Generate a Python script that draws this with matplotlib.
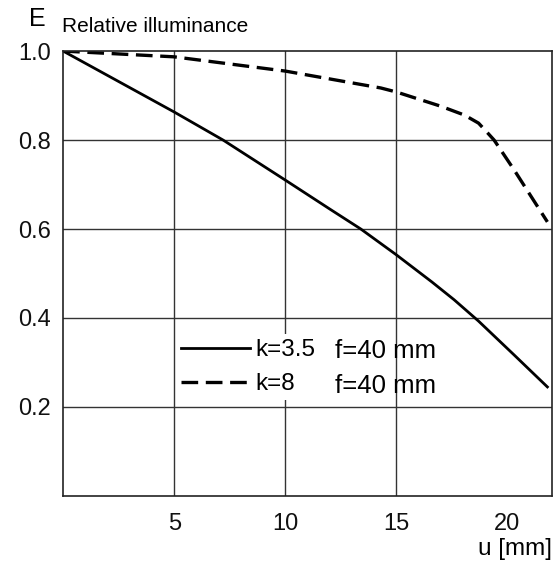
import matplotlib.pyplot as plt

plt.rcParams['font.family'] = ['Liberation Sans', 'DejaVu Sans']
plt.rcParams['lines.scale_dashes'] = False

# curve for k=3.5
u_solid = [0, 5, 7.2, 10, 12, 13.4, 15, 16.6, 17.6, 18.7, 20.3, 21.8]
E_solid = [1.0, 0.863, 0.8, 0.71, 0.645, 0.6, 0.542, 0.481, 0.441, 0.393, 0.317, 0.245]
# curve for k=8
u_dash = [0, 5, 10, 14.3, 15, 17, 18.07, 18.7, 19.0, 19.4, 20.3, 21.8]
E_dash = [1.0, 0.987, 0.955, 0.917, 0.908, 0.876, 0.856, 0.838, 0.822, 0.8, 0.733, 0.616]

xticks = [5, 10, 15, 20]
yticks = [0.2, 0.4, 0.6, 0.8, 1.0]
ylabels = ['0.2', '0.4', '0.6', '0.8', '1.0']

fig = plt.figure(figsize=(5.56, 5.61), dpi=100)
ax = fig.add_axes([0.1135, 0.116, 0.879, 0.793])

ax.plot(u_solid, E_solid, color='black', lw=2, label='k=3.5')
ax.plot(u_dash, E_dash, color='black', lw=2.4, dashes=(12, 5.5), label='k=8')

ax.set_xlim(0, 22)
ax.set_ylim(0, 1.0)
ax.set_xticks(xticks)
ax.set_xticklabels([str(t) for t in xticks])
ax.set_yticks(yticks)
ax.set_yticklabels(ylabels)
ax.tick_params(length=0, labelsize=17, colors='#111111')
ax.tick_params(axis='x', pad=12)
ax.tick_params(axis='y', pad=9)

ax.grid(True, color='#333333', lw=1)
ax.xaxis.get_gridlines()[3].set_visible(False)
ax.yaxis.get_gridlines()[4].set_visible(False)
for s in ax.spines.values():
    s.set_linewidth(1.2)
    s.set_color('#222222')

leg = ax.legend(loc='upper left', bbox_to_anchor=(0.231, 0.363), fontsize=17.5,
                handlelength=2.85, handletextpad=0.2, labelspacing=0.5,
                borderaxespad=0, frameon=True, fancybox=False, borderpad=0.2)
leg.get_frame().set_facecolor('white')
leg.get_frame().set_edgecolor('none')
leg.get_frame().set_alpha(1)
ax.text(0.556, 0.325, 'f=40 mm', transform=ax.transAxes, fontsize=18.5,
        va='center', ha='left', zorder=5)
ax.text(0.556, 0.247, 'f=40 mm', transform=ax.transAxes, fontsize=18.5,
        va='center', ha='left', zorder=5)

fig.text(0.0665, 0.966, 'E', fontsize=18, va='center', ha='center')
fig.text(0.112, 0.952, 'Relative illuminance', fontsize=15, va='center', ha='left')
fig.text(0.993, 0.021, 'u [mm]', fontsize=17.5, va='center', ha='right')

fig.savefig('out.png', dpi=100)
